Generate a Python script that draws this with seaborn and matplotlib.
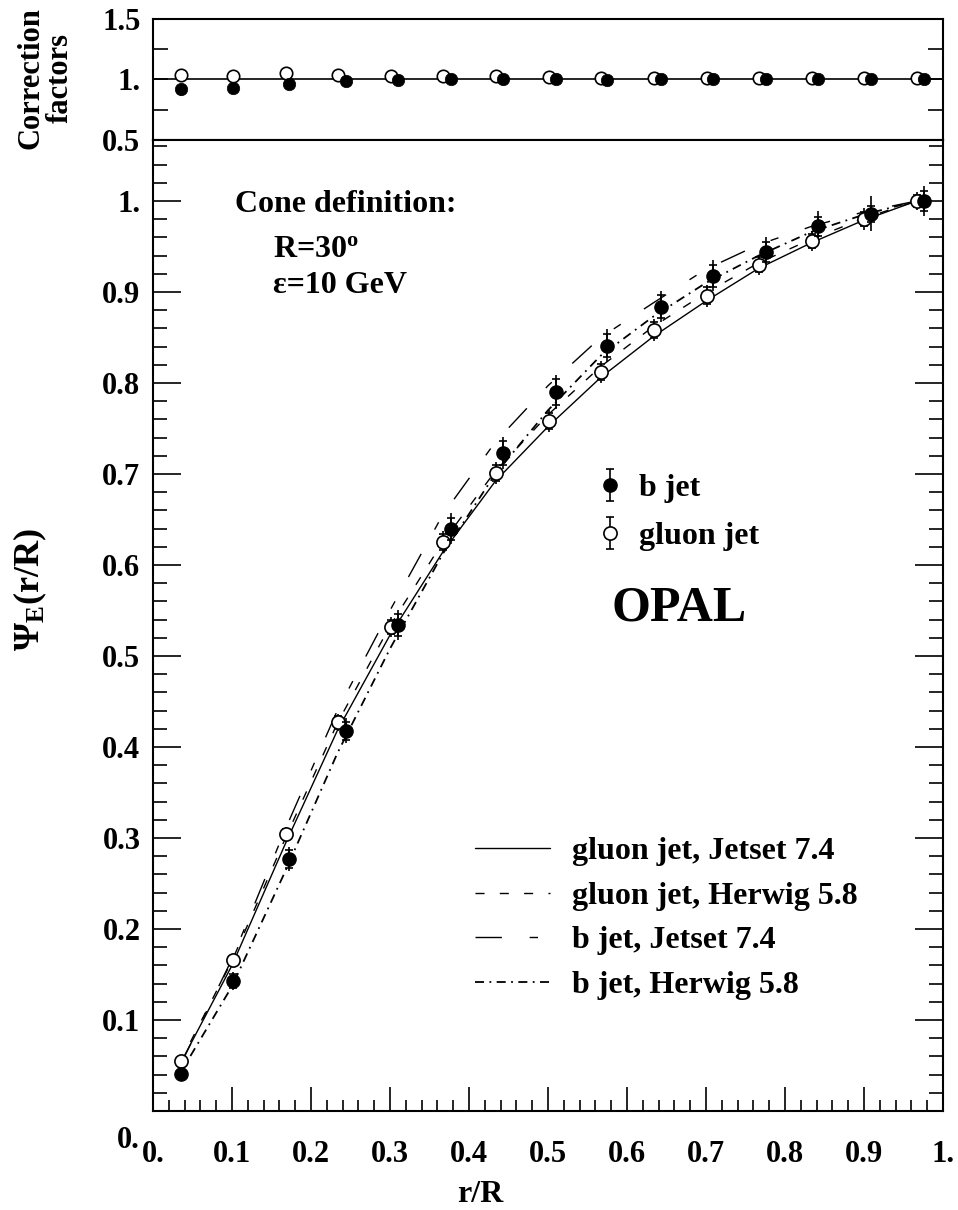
import numpy as np
import matplotlib
matplotlib.use("Agg")
import matplotlib.pyplot as plt
import seaborn as sns
from matplotlib.ticker import MultipleLocator, FixedLocator

# ---------------- data ----------------
r_gluon = [0.035, 0.101, 0.168, 0.234, 0.301, 0.367, 0.434, 0.501, 0.567, 0.634,
           0.701, 0.767, 0.834, 0.900, 0.967]
r_bjet = [0.035, 0.101, 0.172, 0.244, 0.310, 0.377, 0.443, 0.510, 0.575, 0.643,
          0.709, 0.776, 0.842, 0.909, 0.976]

psi_gluon = [0.055, 0.166, 0.304, 0.427, 0.532, 0.625, 0.701, 0.758, 0.812, 0.858,
             0.896, 0.930, 0.956, 0.980, 1.000]
psi_bjet = [0.041, 0.143, 0.277, 0.418, 0.534, 0.640, 0.723, 0.790, 0.841, 0.884,
            0.918, 0.944, 0.972, 0.986, 1.000]

gluon_stat = [0.002, 0.004, 0.006, 0.007, 0.008, 0.009, 0.009, 0.009, 0.009, 0.009,
              0.009, 0.008, 0.008, 0.008, 0.007]
gluon_tot = [0.003, 0.005, 0.008, 0.009, 0.011, 0.012, 0.012, 0.012, 0.012, 0.012,
             0.012, 0.011, 0.011, 0.012, 0.010]
bjet_stat = [0.003, 0.008, 0.010, 0.010, 0.012, 0.012, 0.013, 0.014, 0.013, 0.013,
             0.012, 0.011, 0.010, 0.009, 0.011]
bjet_tot = [0.004, 0.010, 0.013, 0.014, 0.016, 0.017, 0.018, 0.019, 0.018, 0.017,
            0.017, 0.016, 0.017, 0.019, 0.016]

corr_gluon = [1.040, 1.030, 1.055, 1.041, 1.030, 1.025, 1.025, 1.020, 1.015, 1.012,
              1.010, 1.010, 1.010, 1.010, 1.010]
corr_bjet = [0.920, 0.929, 0.962, 0.984, 0.995, 1.003, 1.003, 1.000, 0.995, 1.000,
             1.000, 1.000, 1.000, 1.000, 1.000]
corr_bjet_err = [0.060, 0.010, 0.008, 0.006, 0.005, 0.004, 0.004, 0.004, 0.004, 0.004,
                 0.004, 0.004, 0.004, 0.004, 0.004]

r_mc = [0.0333, 0.1000, 0.1667, 0.2333, 0.3000, 0.3667, 0.4333, 0.5000, 0.5667,
        0.6333, 0.7000, 0.7667, 0.8333, 0.9000, 0.9667]
mc_gluon_jetset = [0.050, 0.160, 0.292, 0.418, 0.523, 0.614, 0.692, 0.752, 0.806,
                   0.851, 0.890, 0.926, 0.954, 0.979, 1.000]
mc_gluon_herwig = [0.052, 0.165, 0.298, 0.426, 0.533, 0.625, 0.703, 0.765, 0.818,
                   0.862, 0.899, 0.932, 0.958, 0.981, 1.000]
mc_bjet_jetset = [0.048, 0.167, 0.308, 0.440, 0.550, 0.655, 0.735, 0.797, 0.850,
                  0.888, 0.925, 0.952, 0.972, 0.988, 1.000]
mc_bjet_herwig = [0.040, 0.137, 0.262, 0.393, 0.508, 0.612, 0.700, 0.770, 0.830,
                  0.873, 0.910, 0.940, 0.966, 0.985, 1.000]

mc_labels = ["gluon jet, Jetset 7.4", "gluon jet, Herwig 5.8",
             "b jet, Jetset 7.4", "b jet, Herwig 5.8"]

x_ticks = [0.0, 0.1, 0.2, 0.3, 0.4, 0.5, 0.6, 0.7, 0.8, 0.9, 1.0]
x_ticklabels = ["0.", "0.1", "0.2", "0.3", "0.4", "0.5", "0.6", "0.7", "0.8", "0.9", "1."]
y_ticks = [0.0, 0.1, 0.2, 0.3, 0.4, 0.5, 0.6, 0.7, 0.8, 0.9, 1.0]
y_ticklabels = ["", "0.1", "0.2", "0.3", "0.4", "0.5", "0.6", "0.7", "0.8", "0.9", "1."]
top_ticks = [0.5, 1.0, 1.5]
top_ticklabels = ["0.5", "1.", "1.5"]

# ---------------- style ----------------
sns.set_theme(style="white")
plt.rcParams["font.family"] = ["Liberation Serif", "DejaVu Serif"]
plt.rcParams["font.weight"] = "bold"
plt.rcParams["mathtext.fontset"] = "custom"
plt.rcParams["mathtext.rm"] = "Liberation Serif:bold"
plt.rcParams["mathtext.it"] = "Liberation Serif:bold"
plt.rcParams["mathtext.bf"] = "Liberation Serif:bold"
plt.rcParams["axes.linewidth"] = 1.5
plt.rcParams["axes.edgecolor"] = "black"
for key in ["text.color", "axes.labelcolor", "xtick.color", "ytick.color"]:
    plt.rcParams[key] = "black"

FS = 22
fig = plt.figure(figsize=(9.58, 12.10), dpi=100)
ax_top = fig.add_axes([0.1597, 0.8843, 0.8246, 0.1000])
ax = fig.add_axes([0.1597, 0.0818, 0.8246, 0.8025])

# ---------------- top panel ----------------
ax_top.axhline(1.0, color="black", lw=1.2)
ax_top.errorbar(r_bjet, corr_bjet, yerr=[corr_bjet_err, [0.0] * len(corr_bjet_err)],
                fmt="none", ecolor="black", elinewidth=1.1)
sns.scatterplot(x=r_gluon, y=corr_gluon, ax=ax_top, marker="o", s=80,
                facecolor="white", edgecolor="black", linewidth=1.2, zorder=5)
sns.scatterplot(x=r_bjet, y=corr_bjet, ax=ax_top, marker="o", s=80,
                color="black", edgecolor="black", linewidth=0.5, zorder=6)
ax_top.set_xlim(0, 1)
ax_top.set_ylim(0.5, 1.5)
ax_top.set_xticks([])
ax_top.yaxis.set_major_locator(FixedLocator(top_ticks))
ax_top.set_yticklabels(top_ticklabels)
ax_top.yaxis.set_minor_locator(FixedLocator([0.75, 1.25]))
ax_top.tick_params(axis="y", which="both", direction="in", left=True, right=True,
                   length=11, width=1.2, labelsize=FS, pad=9, colors="black")
for lab in ax_top.get_yticklabels():
    lab.set_fontweight("bold")

# ---------------- main panel ----------------
styles = [
    dict(linestyle="-", lw=1.0),
    dict(linestyle=(0, (6.5, 11)), lw=1.0),
    dict(linestyle=(0, (19, 20, 6, 20)), lw=1.0),
    dict(linestyle=(0, (5, 3, 1, 3)), lw=1.3),
]
mc_series = [mc_gluon_jetset, mc_gluon_herwig, mc_bjet_jetset, mc_bjet_herwig]
mc_handles = []
for ys, st in zip(mc_series, styles):
    sns.lineplot(x=r_mc, y=ys, ax=ax, color="black", estimator=None, **st)
    mc_handles.append(ax.get_lines()[-1])

# total errors (no caps)
ax.errorbar(r_gluon, psi_gluon, yerr=gluon_tot, fmt="none", ecolor="black", elinewidth=1.2)
ax.errorbar(r_bjet, psi_bjet, yerr=bjet_tot, fmt="none", ecolor="black", elinewidth=1.2)
# statistical errors with caps and markers
eb_g = ax.errorbar(r_gluon, psi_gluon, yerr=gluon_stat, fmt="o", ms=9.5, mfc="white",
                   mec="black", mew=1.2, ecolor="black", elinewidth=1.2, capsize=3,
                   capthick=1.2, zorder=5)
eb_b = ax.errorbar(r_bjet, psi_bjet, yerr=bjet_stat, fmt="o", ms=9.5, mfc="black",
                   mec="black", ecolor="black", elinewidth=1.2, capsize=3,
                   capthick=1.2, zorder=6)

ax.set_xlim(0, 1)
ax.set_ylim(0, 1.067)
ax.set_xticks(x_ticks)
ax.set_xticklabels(x_ticklabels)
ax.set_yticks(y_ticks)
ax.set_yticklabels(y_ticklabels)
ax.xaxis.set_minor_locator(MultipleLocator(0.02))
ax.yaxis.set_minor_locator(MultipleLocator(0.02))
ax.tick_params(axis="x", which="major", direction="in", bottom=True, top=False,
               length=17, width=1.2, labelsize=FS, pad=21, colors="black")
ax.tick_params(axis="x", which="minor", direction="in", bottom=True, top=False,
               length=8, width=1.2, colors="black")
ax.tick_params(axis="y", which="major", direction="in", left=True, right=True,
               length=20, width=1.2, labelsize=FS, pad=9, colors="black")
ax.tick_params(axis="y", which="minor", direction="in", left=True, right=True,
               length=10, width=1.2, colors="black")
for lab in ax.get_xticklabels() + ax.get_yticklabels():
    lab.set_fontweight("bold")
ax.annotate("0.", xy=(0, 0), xycoords=("axes fraction", "data"), xytext=(-13, -29),
            textcoords="offset pixels", ha="right", va="center", fontsize=FS,
            fontweight="bold", color="black")

# texts
ax.text(0.104, 0.926, "Cone definition:", transform=ax.transAxes, fontsize=23,
        fontweight="bold", ha="left", va="baseline", color="black")
ax.text(0.152, 0.8795, r"R=30$^{\mathrm{o}}$", transform=ax.transAxes, fontsize=23,
        fontweight="bold", ha="left", va="baseline", color="black")
ax.text(0.152, 0.8424, "ε=10 GeV", transform=ax.transAxes, fontsize=23,
        fontweight="bold", ha="left", va="baseline", color="black")
ax.text(0.58, 0.505, "OPAL", transform=ax.transAxes, fontsize=36,
        fontweight="bold", ha="left", va="baseline", color="black")

# legends
leg1 = ax.legend(handles=[eb_b, eb_g], labels=["b jet", "gluon jet"],
                 loc="upper left", bbox_to_anchor=(597 / 958, 1 - 474 / 1210),
                 bbox_transform=fig.transFigure, frameon=False,
                 handlelength=0.8, handletextpad=0.5, labelspacing=0.57,
                 borderpad=0, borderaxespad=0, prop={"weight": "bold", "size": 23})
ax.add_artist(leg1)
leg2 = ax.legend(handles=mc_handles, labels=mc_labels,
                 loc="upper left", bbox_to_anchor=(475 / 958, 1 - 837 / 1210),
                 bbox_transform=fig.transFigure, frameon=False,
                 handlelength=2.35, handletextpad=0.69, labelspacing=0.475,
                 borderpad=0, borderaxespad=0, prop={"weight": "bold", "size": 23})
for lg in (leg1, leg2):
    for t in lg.get_texts():
        t.set_color("black")

# axis labels
fig.text(30 / 958, 1 - 590 / 1210, r"$\Psi_{\mathrm{E}}$(r/R)", rotation=90,
         ha="center", va="center", fontsize=26, fontweight="bold", color="black")
fig.text(480 / 958, 1 - 1195 / 1210, "r/R", ha="center", va="center",
         fontsize=23, fontweight="bold", color="black")
fig.text(46 / 958, 1 - 78 / 1210, "Correction\nfactors", rotation=90,
         ha="center", va="center", fontsize=22, fontweight="bold",
         multialignment="center", linespacing=1.0, color="black")

fig.savefig("out.png", dpi=100)
